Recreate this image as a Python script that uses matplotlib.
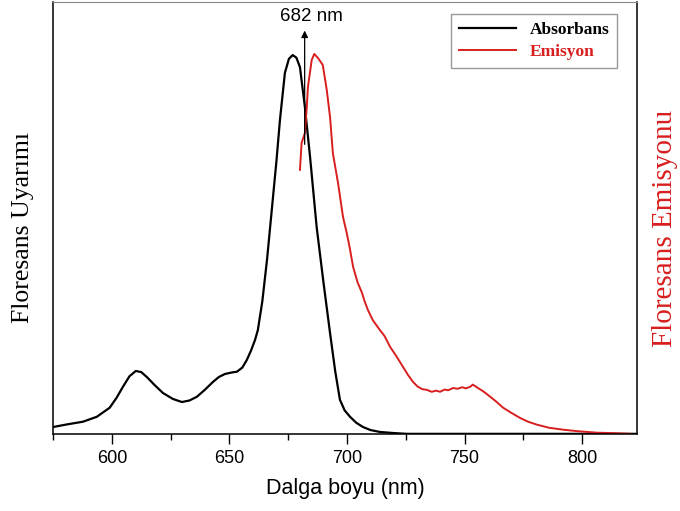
import matplotlib
matplotlib.use('Agg')
import matplotlib.pyplot as plt
from matplotlib.ticker import MultipleLocator

# absorbance (black), normalised
abs_wl = [575, 581, 587.7, 593.6, 599.1, 602, 604.7, 607.5, 610.2, 612.5, 614.9, 618,
          621.7, 626, 629.8, 633, 636.2, 639.5, 643.0, 645.5, 648.1, 651, 653.2, 655.5,
          657.4, 659.2, 660.9, 662.1, 664, 666, 668, 670, 671.5, 673.6, 675.3, 676.9,
          678.5, 680, 682.1, 684.3, 687.1, 690, 692.8, 695, 697.0, 699, 701.3, 704,
          706.8, 710, 714.0, 720, 725.5, 740, 760, 800, 823]
abs_val = [0.018, 0.025, 0.032, 0.045, 0.069, 0.095, 0.124, 0.152, 0.166, 0.163, 0.150, 0.130,
           0.108, 0.092, 0.084, 0.088, 0.098, 0.116, 0.137, 0.150, 0.158, 0.162, 0.164, 0.175,
           0.195, 0.220, 0.248, 0.274, 0.35, 0.46, 0.59, 0.72, 0.829, 0.953, 0.99, 1.0,
           0.993, 0.968, 0.863, 0.731, 0.546, 0.40, 0.266, 0.165, 0.090, 0.062, 0.045, 0.029,
           0.018, 0.010, 0.005, 0.002, 0.0, 0.0, 0.0, 0.0, 0.0]

# emission (red), normalised
em_wl = [680.0, 680.7, 682.1, 682.9, 683.4, 685.0, 686.1, 686.8, 687.7, 689.7, 691.4, 692.8,
         694.0, 696.2, 698.3, 699.9, 701.2, 702.6, 704.5, 706.4, 707.5, 708.9, 711, 714.0,
         716, 718.3, 721, 723.8, 726, 728.1, 730, 732, 734.0, 736, 738, 739.6, 741.5, 743,
         745.1, 747, 749, 750.5, 752.3, 753.5, 755.7, 758, 760.9, 763.5, 766.4, 770, 773.6,
         777, 780.9, 786, 791.9, 798, 806.4, 813, 820.4]
em_val = [0.697, 0.768, 0.794, 0.863, 0.916, 0.987, 1.003, 0.998, 0.992, 0.974, 0.908, 0.836,
          0.741, 0.662, 0.573, 0.530, 0.490, 0.441, 0.400, 0.372, 0.350, 0.327, 0.300, 0.274,
          0.258, 0.230, 0.205, 0.177, 0.155, 0.137, 0.125, 0.118, 0.116, 0.111, 0.114, 0.111,
          0.117, 0.115, 0.121, 0.119, 0.123, 0.120, 0.124, 0.130, 0.121, 0.112, 0.098, 0.085,
          0.069, 0.055, 0.042, 0.032, 0.024, 0.016, 0.011, 0.007, 0.003, 0.002, 0.0]

peak_wl = 682
red = '#d81e1e'

fig = plt.figure(figsize=(6.8, 5.11), dpi=100)
ax = fig.add_axes([0.078, 0.151, 0.859, 0.845])

ax.plot(abs_wl, abs_val, color='black', lw=1.6, label='Absorbans')
ax.plot(em_wl, em_val, color=red, lw=1.4, label='Emisyon')

ax.annotate('', xy=(peak_wl, 1.072), xytext=(peak_wl, 0.757),
            arrowprops=dict(arrowstyle='-|>', color='black', lw=0.9, mutation_scale=10))
ax.text(685, 1.103, f'{peak_wl} nm', ha='center', va='center',
        fontsize=13.5, family='Liberation Sans')

ax.set_xlim(575, 823.4)
ax.set_ylim(0, 1.14)
ax.xaxis.set_major_locator(MultipleLocator(50))
ax.xaxis.set_minor_locator(MultipleLocator(25))
ax.tick_params(axis='x', which='major', direction='out', length=7, width=1,
               labelsize=13, pad=4.5)
ax.tick_params(axis='x', which='minor', direction='out', length=4, width=1)
ax.set_yticks([])
for lbl in ax.get_xticklabels():
    lbl.set_family('Liberation Sans')

for side in ['left', 'bottom', 'right']:
    ax.spines[side].set_linewidth(1.1)
ax.spines['top'].set_color('#888888')

ax.set_xlabel('Dalga boyu (nm)', fontsize=15.5, family='Liberation Sans', labelpad=8)
ax.set_ylabel('Floresans Uyarımı', fontsize=18.5, family='Liberation Serif')
ax.yaxis.set_label_coords(-0.032, 0.478)
fig.text(0.978, 0.553, 'Floresans Emisyonu', rotation=90, ha='center', va='center',
         fontsize=21, family='Liberation Serif', color=red)

leg = ax.legend(loc='upper right', bbox_to_anchor=(0.966, 0.972), borderaxespad=0,
                prop={'family': 'Liberation Serif', 'weight': 'bold', 'size': 12.5},
                fancybox=False, edgecolor='#999999', framealpha=1,
                handlelength=3.3, borderpad=0.45, labelspacing=0.35)
leg.get_texts()[1].set_color(red)

fig.savefig('out.png', dpi=100)
